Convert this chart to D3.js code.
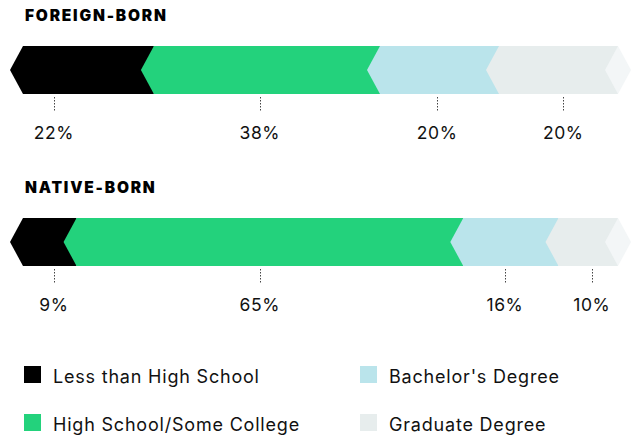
<!DOCTYPE html>
<html>
<head>
<meta charset="utf-8">
<script src="https://cdn.jsdelivr.net/npm/d3@7"></script>
<style>
  body { margin: 0; background: #fff; }
  svg { display: block; font-family: Inter, "Noto Sans", sans-serif; }
</style>
</head>
<body>
<svg id="chart" width="632" height="436"></svg>
<script>
// data
const categories = ["Less than High School", "High School/Some College", "Bachelor's Degree", "Graduate Degree"];
const groups = ["FOREIGN-BORN", "NATIVE-BORN"];
const foreignBorn = [22, 38, 20, 20];
const nativeBorn = [9, 65, 16, 10];
// where the % labels sit, in percent along the bar
const foreignLabelAt = [5.2, 39.8, 69.6, 90.8];
const nativeLabelAt = [5.2, 39.8, 81, 95.6];

const colors = ["#000000", "#23d27c", "#bae4eb", "#e7eded"];
const capColor = "#f3f6f7";

const svg = d3.select("#chart");

const x = d3.scaleLinear().domain([0, 100]).range([23, 618]);
const color = d3.scaleOrdinal().domain(categories).range(colors);

const barH = 48, notch = 13;

function drawGroup(title, values, labelAt, top) {
  const g = svg.append("g");

  g.append("text")
    .attr("x", 25)
    .attr("y", top - 25)
    .attr("font-size", 15.5)
    .attr("font-weight", 900)
    .attr("letter-spacing", 1.8)
    .attr("fill", "#000")
    .text(title);

  // stacked start/end for each segment
  let acc = 0;
  const segs = values.map((v, i) => {
    const s = { cat: categories[i], x0: acc, x1: acc + v, v: v, at: labelAt[i] };
    acc += v;
    return s;
  });

  const mid = top + barH / 2;

  g.selectAll("path.seg")
    .data(segs)
    .enter().append("path")
    .attr("class", "seg")
    .attr("fill", d => color(d.cat))
    .attr("d", d => {
      const a = x(d.x0), b = x(d.x1);
      return "M" + a + "," + top + "L" + b + "," + top + "L" + b + "," + (top + barH) +
        "L" + a + "," + (top + barH) + "L" + (a - notch) + "," + mid + "Z";
    });

  // pale cap at the right end
  const end = x(acc);
  g.append("path")
    .attr("fill", capColor)
    .attr("d", "M" + end + "," + top + "L" + (end + notch) + "," + mid + "L" + end + "," + (top + barH) +
      "L" + (end - notch) + "," + mid + "Z");

  g.selectAll("line.tick")
    .data(segs)
    .enter().append("line")
    .attr("class", "tick")
    .attr("x1", d => Math.round(x(d.at)) + 0.5)
    .attr("x2", d => Math.round(x(d.at)) + 0.5)
    .attr("y1", top + barH + 3)
    .attr("y2", top + barH + 17)
    .attr("stroke", "#444")
    .attr("stroke-width", 1)
    .attr("stroke-dasharray", "1.5,1.5");

  g.selectAll("text.pct")
    .data(segs)
    .enter().append("text")
    .attr("class", "pct")
    .attr("x", d => x(d.at))
    .attr("y", top + barH + 45)
    .attr("text-anchor", "middle")
    .attr("font-size", 17.5)
    .attr("letter-spacing", 0.6)
    .attr("fill", "#111")
    .text(d => d.v + "%");
}

drawGroup(groups[0], foreignBorn, foreignLabelAt, 46);
drawGroup(groups[1], nativeBorn, nativeLabelAt, 218);

// legend
const legend = svg.append("g");
const item = legend.selectAll("g")
  .data(categories)
  .enter().append("g")
  .attr("transform", (d, i) => "translate(" + (i < 2 ? 24 : 360) + "," + (i % 2 === 0 ? 366 : 414) + ")");

item.append("rect")
  .attr("width", 17)
  .attr("height", 17)
  .attr("fill", d => color(d));

item.append("text")
  .attr("x", 29)
  .attr("y", 17)
  .attr("font-size", 18)
  .attr("letter-spacing", 0.8)
  .attr("fill", "#111")
  .text(d => d);
</script>
</body>
</html>
